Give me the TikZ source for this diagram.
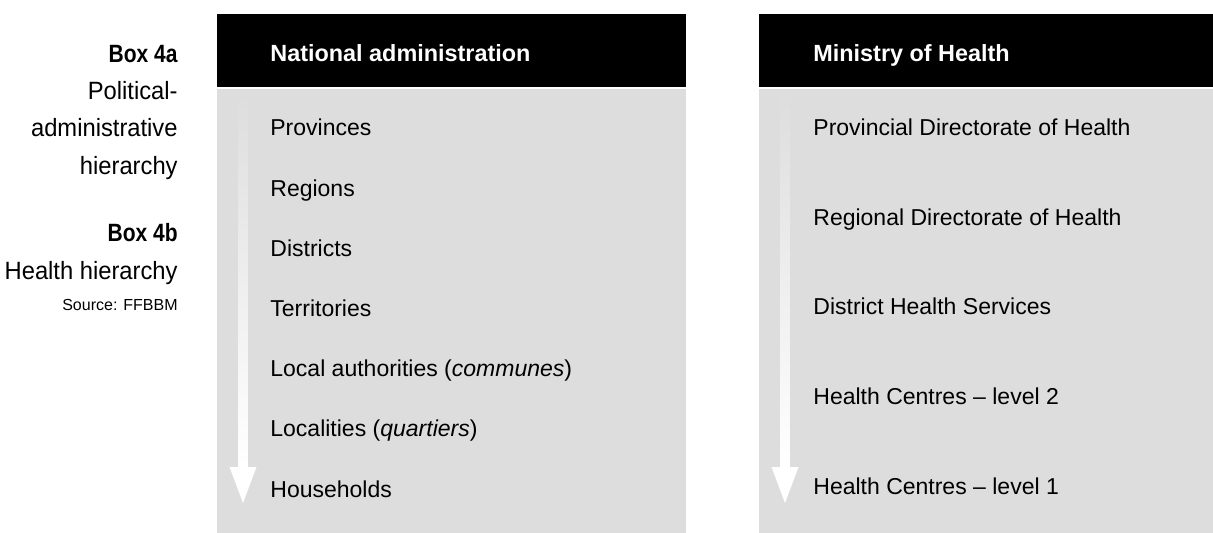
\documentclass[tikz,border=0pt]{standalone}
\usepackage{fontspec}
\setmainfont{Liberation Sans}
\newfontfamily\narrowfont[FakeStretch=0.95]{Liberation Sans}
\newfontfamily\narrowboldfont[FakeStretch=0.84]{Liberation Sans Bold}
\usetikzlibrary{positioning}

\definecolor{panelgray}{RGB}{221,221,221}

\tikzset{
	header/.style={anchor=base west, text=white, font=\bfseries\fontsize{11.7}{13}\selectfont, inner sep=0pt},
	level/.style={anchor=base west, font=\fontsize{11.5}{13}\selectfont, inner sep=0pt},
	caption/.style={anchor=base east, font=\narrowfont\fontsize{12.5}{14}\selectfont, inner sep=0pt},
	boxtitle/.style={caption, font=\narrowboldfont\fontsize{12.5}{14}\selectfont},
}

% downward arrow, shaft fading from the panel grey into white
\newcommand{\downarrowat}[1]{%
	\shade[top color=panelgray, bottom color=white]
	(#1-4.5,92) rectangle (#1+4.5,467);
	\fill[white] (#1-13.5,467) -- (#1+13.5,467) -- (#1,503) -- cycle;
}

\begin{document}
\begin{tikzpicture}[x=0.5pt, y=-0.5pt]
	
	\useasboundingbox (0,0) rectangle (1213,533);
	
	% Captions on the left
	\node[boxtitle] (boxa) at (178,63) {Box 4a};
	\node[caption] (capa1) at (178,100) {Political-};
	\node[caption] (capa2) at (178,137) {administrative};
	\node[caption] (capa3) at (178,175) {hierarchy};
	\node[boxtitle] (boxb) at (178,242) {Box 4b};
	\node[caption] (capb) at (178,280) {Health hierarchy};
	\node[anchor=base east, inner sep=0pt, font=\fontsize{8}{10}\selectfont] (source) at (178,311) {Source: FFBBM};
	
	% Panels
	\fill[black] (217,14) rectangle (686,87);
	\fill[panelgray] (217,89) rectangle (686,533);
	\fill[black] (759,14) rectangle (1213,87);
	\fill[panelgray] (759,89) rectangle (1213,533);
	
	% Arrows
	\downarrowat{243}
	\downarrowat{785}
	
	% Political-administrative hierarchy
	\node[header] (natadmin) at (270,62) {National administration};
	\foreach \name/\txt [count=\i from 0] in {prov/Provinces, reg/Regions, dist/Districts, terr/Territories,
		local/{Local authorities (\textit{communes})}, quart/{Localities (\textit{quartiers})}, house/Households}
	\node[level] (\name) at (270,136+60.2*\i) {\txt};
	
	% Health hierarchy
	\node[header] (ministry) at (813,62) {Ministry of Health};
	\foreach \name/\txt [count=\i from 0] in {pdh/Provincial Directorate of Health, rdh/Regional Directorate of Health,
		dhs/District Health Services, hc2/Health Centres -- level 2, hc1/Health Centres -- level 1}
	\node[level] (\name) at (813,136+89.5*\i) {\txt};
	
\end{tikzpicture}
\end{document}
